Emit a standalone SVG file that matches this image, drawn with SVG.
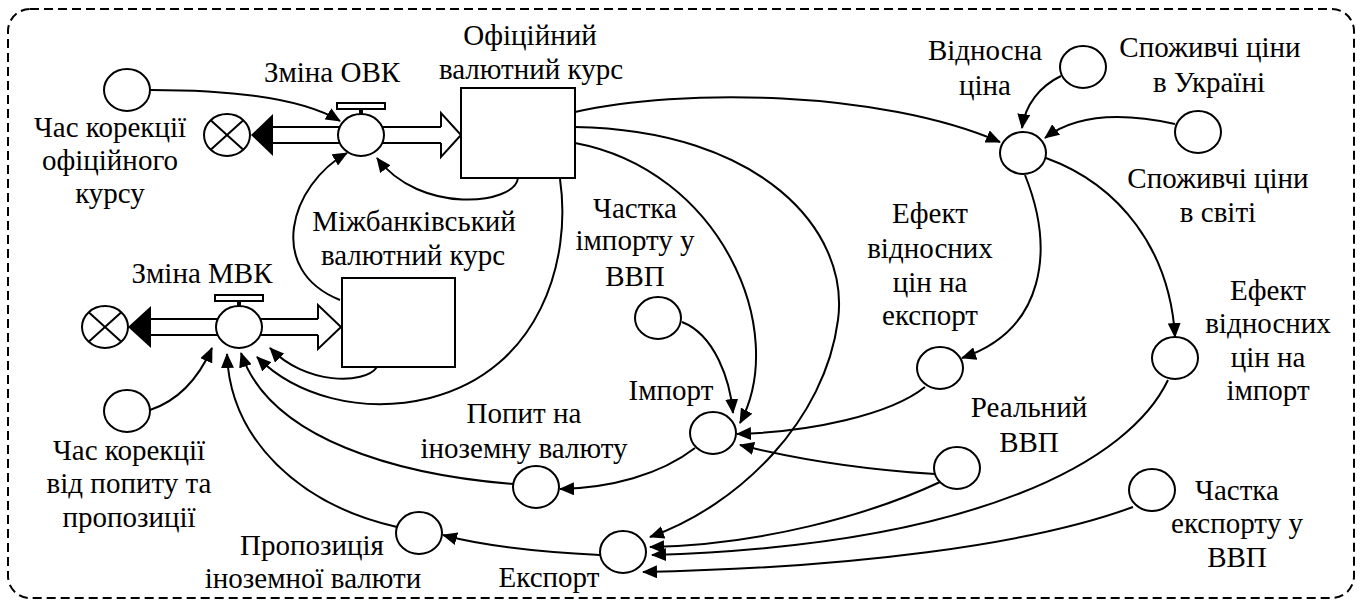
<svg xmlns="http://www.w3.org/2000/svg" width="1362" height="600" viewBox="0 0 1362 600">
<defs>
<marker id="ah" markerUnits="userSpaceOnUse" markerWidth="15" markerHeight="13" refX="14" refY="6.5" orient="auto">
<path d="M0,0 L15,6.5 L0,13 z" fill="#000"/>
</marker>
</defs>
<rect x="8" y="9" width="1346" height="589" rx="22" ry="22" fill="#fff" stroke="#000" stroke-width="2" stroke-dasharray="9,5"/>

<g id="connectors" fill="none" stroke="#000" stroke-width="2" marker-end="url(#ah)">
<path d="M151,90 C230,90 300,97 340,121"/>
<path d="M518,178 C515,205 420,215 377,158"/>
<path d="M340,300 C265,270 290,185 347,153"/>
<path d="M560,179 C572,260 540,370 430,398 C360,415 295,395 257,357"/>
<path d="M377,367 C365,385 305,385 270,348"/>
<path d="M150,410 C180,400 200,375 212,348"/>
<path d="M397,527 C300,505 230,440 227,354"/>
<path d="M513,484 C400,475 270,440 241,353"/>
<path d="M695,448 C660,475 610,488 560,489"/>
<path d="M600,555 C540,552 480,545 443,535"/>
<path d="M682,322 C715,335 730,380 733,413"/>
<path d="M575,143 C720,170 790,330 740,423"/>
<path d="M575,127 C760,130 850,230 838,320 C825,420 740,505 650,537"/>
<path d="M575,112 C680,88 880,90 1000,142"/>
<path d="M925,387 C890,415 810,432 737,434"/>
<path d="M935,474 C870,470 800,460 740,445"/>
<path d="M940,482 C870,515 760,545 650,547"/>
<path d="M1168,380 C1130,460 980,545 652,555"/>
<path d="M1133,507 C1030,545 850,568 643,572"/>
<path d="M1025,175 C1055,250 1045,330 962,358"/>
<path d="M1046,158 C1120,185 1170,250 1175,337"/>
<path d="M1061,76 C1040,86 1025,105 1022,128"/>
<path d="M1175,124 C1120,112 1075,115 1045,138"/>
</g>

<g id="nodes" stroke-width="2" font-family="Liberation Serif" font-size="29" text-anchor="middle">
<g id="flow-ovk">
<rect x="273" y="127" width="168" height="16" fill="#fff"/>
<path d="M273,127 H441 M273,143 H441" stroke="#000" fill="none"/>
<path d="M251,135 L273,114 L273,156 z" fill="#000"/>
<path d="M441,127 V113 L461,135 L441,157 V143" fill="#fff" stroke="#000"/>
</g>
<g id="cloud-ovk" stroke="#000">
<ellipse cx="227" cy="135" rx="23" ry="21" fill="#fff"/>
<path d="M210.7,120.2 L243.3,149.8 M243.3,120.2 L210.7,149.8" fill="none"/>
</g>
<g id="valve-ovk">
<rect x="337" y="103" width="48" height="6" fill="#fff" stroke="#000"/>
<line x1="361" y1="109" x2="361" y2="116" stroke="#000" stroke-width="4"/>
<ellipse cx="361" cy="135" rx="23" ry="21" fill="#fff" stroke="#000"/>
<text x="332" y="82">Зміна ОВК</text>
</g>
<g id="stock-ovk">
<rect x="461" y="88" width="114" height="90" fill="#fff" stroke="#000"/>
<text x="530" y="45">Офіційний</text>
<text x="531" y="79">валютний курс</text>
</g>
<g id="time-ovk">
<ellipse cx="127" cy="90" rx="23" ry="21" fill="#fff" stroke="#000"/>
<text x="110" y="137">Час корекції</text>
<text x="110" y="170">офіційного</text>
<text x="110" y="203">курсу</text>
</g>

<g id="flow-mvk">
<rect x="151" y="319" width="167" height="16" fill="#fff"/>
<path d="M151,319 H318 M151,335 H318" stroke="#000" fill="none"/>
<path d="M128,327 L151,306 L151,348 z" fill="#000"/>
<path d="M318,319 V305 L341,327 L318,349 V335" fill="#fff" stroke="#000"/>
</g>
<g id="cloud-mvk" stroke="#000">
<ellipse cx="105" cy="327" rx="23" ry="21" fill="#fff"/>
<path d="M88.7,312.2 L121.3,341.8 M121.3,312.2 L88.7,341.8" fill="none"/>
</g>
<g id="valve-mvk">
<rect x="215" y="295" width="48" height="6" fill="#fff" stroke="#000"/>
<line x1="239" y1="301" x2="239" y2="308" stroke="#000" stroke-width="4"/>
<ellipse cx="239" cy="327" rx="23" ry="21" fill="#fff" stroke="#000"/>
<text x="202" y="283">Зміна МВК</text>
</g>
<g id="stock-mvk">
<rect x="342" y="278" width="113" height="89" fill="#fff" stroke="#000"/>
<text x="414" y="231">Міжбанківський</text>
<text x="413" y="265">валютний курс</text>
</g>
<g id="time-mvk">
<ellipse cx="127" cy="411" rx="23" ry="21" fill="#fff" stroke="#000"/>
<text x="129" y="460">Час корекції</text>
<text x="129" y="493">від попиту та</text>
<text x="129" y="527">пропозиції</text>
</g>
<g id="supply">
<ellipse cx="419" cy="533" rx="23" ry="21" fill="#fff" stroke="#000"/>
<text x="312" y="555">Пропозиція</text>
<text x="313" y="588">іноземної валюти</text>
</g>
<g id="demand">
<ellipse cx="536" cy="487" rx="23" ry="21" fill="#fff" stroke="#000"/>
<text x="524" y="423">Попит на</text>
<text x="524" y="458">іноземну валюту</text>
</g>
<g id="import">
<ellipse cx="713" cy="433" rx="23" ry="21" fill="#fff" stroke="#000"/>
<text x="671" y="400">Імпорт</text>
</g>
<g id="export">
<ellipse cx="623" cy="552" rx="23" ry="21" fill="#fff" stroke="#000"/>
<text x="549" y="587">Експорт</text>
</g>
<g id="import-share">
<ellipse cx="658" cy="318" rx="23" ry="21" fill="#fff" stroke="#000"/>
<text x="635" y="218">Частка</text>
<text x="635" y="250">імпорту у</text>
<text x="635" y="286">ВВП</text>
</g>
<g id="effect-export">
<ellipse cx="940" cy="368" rx="23" ry="21" fill="#fff" stroke="#000"/>
<text x="930" y="223">Ефект</text>
<text x="930" y="258">відносних</text>
<text x="930" y="292">цін на</text>
<text x="930" y="325">експорт</text>
</g>
<g id="effect-import">
<ellipse cx="1175" cy="358" rx="23" ry="21" fill="#fff" stroke="#000"/>
<text x="1268" y="300">Ефект</text>
<text x="1268" y="333">відносних</text>
<text x="1268" y="367">цін на</text>
<text x="1268" y="400">імпорт</text>
</g>
<g id="real-gdp">
<ellipse cx="957" cy="468" rx="23" ry="21" fill="#fff" stroke="#000"/>
<text x="1029" y="417">Реальний</text>
<text x="1029" y="452">ВВП</text>
</g>
<g id="export-share">
<ellipse cx="1152" cy="490" rx="23" ry="21" fill="#fff" stroke="#000"/>
<text x="1237" y="500">Частка</text>
<text x="1237" y="533">експорту у</text>
<text x="1237" y="567">ВВП</text>
</g>
<g id="relative-price">
<ellipse cx="1023" cy="153" rx="23" ry="21" fill="#fff" stroke="#000"/>
<text x="985" y="60">Відносна</text>
<text x="985" y="95">ціна</text>
</g>
<g id="prices-ua">
<ellipse cx="1083" cy="67" rx="23" ry="21" fill="#fff" stroke="#000"/>
<text x="1210" y="57">Споживчі ціни</text>
<text x="1209" y="92">в Україні</text>
</g>
<g id="prices-world">
<ellipse cx="1198" cy="132" rx="23" ry="21" fill="#fff" stroke="#000"/>
<text x="1218" y="188">Споживчі ціни</text>
<text x="1218" y="222">в світі</text>
</g>
</g>
</svg>
